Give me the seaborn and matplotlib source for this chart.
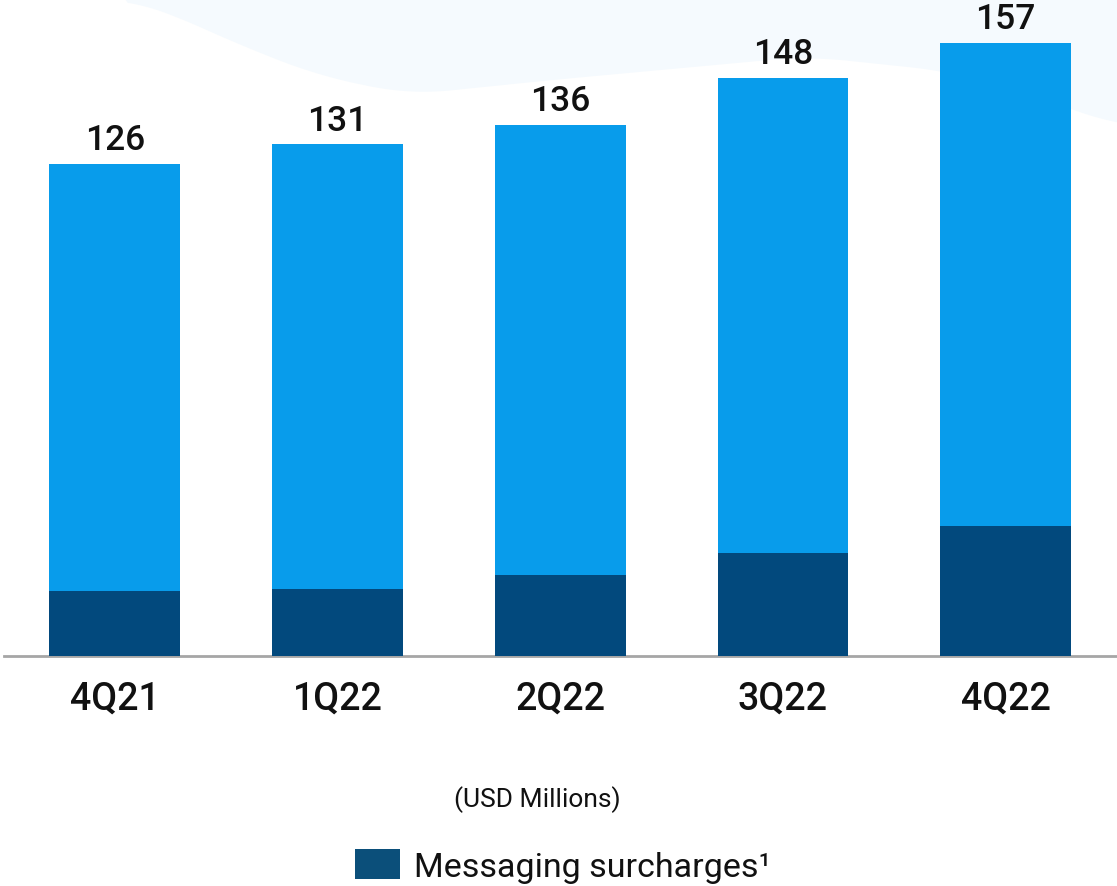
import numpy as np
import pandas as pd
import matplotlib
matplotlib.use("Agg")
import matplotlib.pyplot as plt
from matplotlib.patches import Patch
import seaborn as sns

quarters = ["4Q21", "1Q22", "2Q22", "3Q22", "4Q22"]
total_revenue = [126, 131, 136, 148, 157]
messaging_surcharges = [16.6, 17.2, 20.7, 26.4, 33.3]

LIGHT = "#089CEB"
DARK = "#02497D"
LEGEND_DARK = "#0B4F7A"

sns.set_theme(style="white")
plt.rcParams["font.family"] = ["Roboto", "DejaVu Sans"]

df = pd.DataFrame({
    "quarter": quarters,
    "total": total_revenue,
    "surcharges": messaging_surcharges,
})

fig = plt.figure(figsize=(11.17, 8.87), dpi=100)
fig.patch.set_facecolor("white")

# soft decorative wave behind the chart
bg = fig.add_axes([0, 0, 1, 1], zorder=0)
bg.set_xlim(0, 1117)
bg.set_ylim(887, 0)
bg.axis("off")
xs = np.linspace(125, 1117, 500)
knots_x = [125, 160, 250, 321, 410, 557, 807, 950, 1075, 1117]
knots_y = [0, 10, 50, 77, 95, 80, 57, 72, 110, 127]
ys = np.interp(xs, knots_x, knots_y)
ys = np.convolve(np.pad(ys, 20, mode="edge"), np.ones(41) / 41, mode="valid")
ys[0] = 0
bg.fill_between(xs, 0, ys, color="#F5FAFE", lw=0)

ax = fig.add_axes([3.5 / 1117, 1 - 657 / 887, 1 - 3.5 / 1117, 656 / 887], zorder=1)
ax.patch.set_alpha(0)

sns.barplot(data=df, x="quarter", y="total", color=LIGHT, width=0.587,
            saturation=1, linewidth=0, ax=ax, zorder=2)
sns.barplot(data=df, x="quarter", y="surcharges", color=DARK, width=0.587,
            saturation=1, linewidth=0, ax=ax, zorder=3)

for i, v in enumerate(total_revenue):
    ax.text(i, v + 2.0, f"{v}", ha="center", va="bottom", fontsize=25.5,
            fontweight="medium", color="#111111")

ax.set_xlim(-0.5, 4.5)
ax.set_ylim(0, 168)
ax.set_xlabel("")
ax.set_ylabel("")
ax.set_yticks([])
ax.tick_params(axis="x", length=0, pad=17, labelsize=27, colors="#111111")
for lab in ax.get_xticklabels():
    lab.set_fontweight("medium")
for side in ["top", "right", "left"]:
    ax.spines[side].set_visible(False)
ax.spines["bottom"].set_color("#A6A6A6")
ax.spines["bottom"].set_linewidth(2)

fig.text(537 / 1117, 1 - 800 / 887, "(USD Millions)", ha="center", va="center",
         fontsize=19, color="#111111")

handle = Patch(facecolor=LEGEND_DARK, edgecolor="none")
fig.legend([handle], ["Messaging surcharges¹"], loc="center",
           bbox_to_anchor=(563 / 1117, 1 - 867 / 887), frameon=False,
           fontsize=24.5, handlelength=1.33, handleheight=0.98, handletextpad=0.4,
           labelcolor="#111111")

fig.savefig("out.png", dpi=100, facecolor="white")
